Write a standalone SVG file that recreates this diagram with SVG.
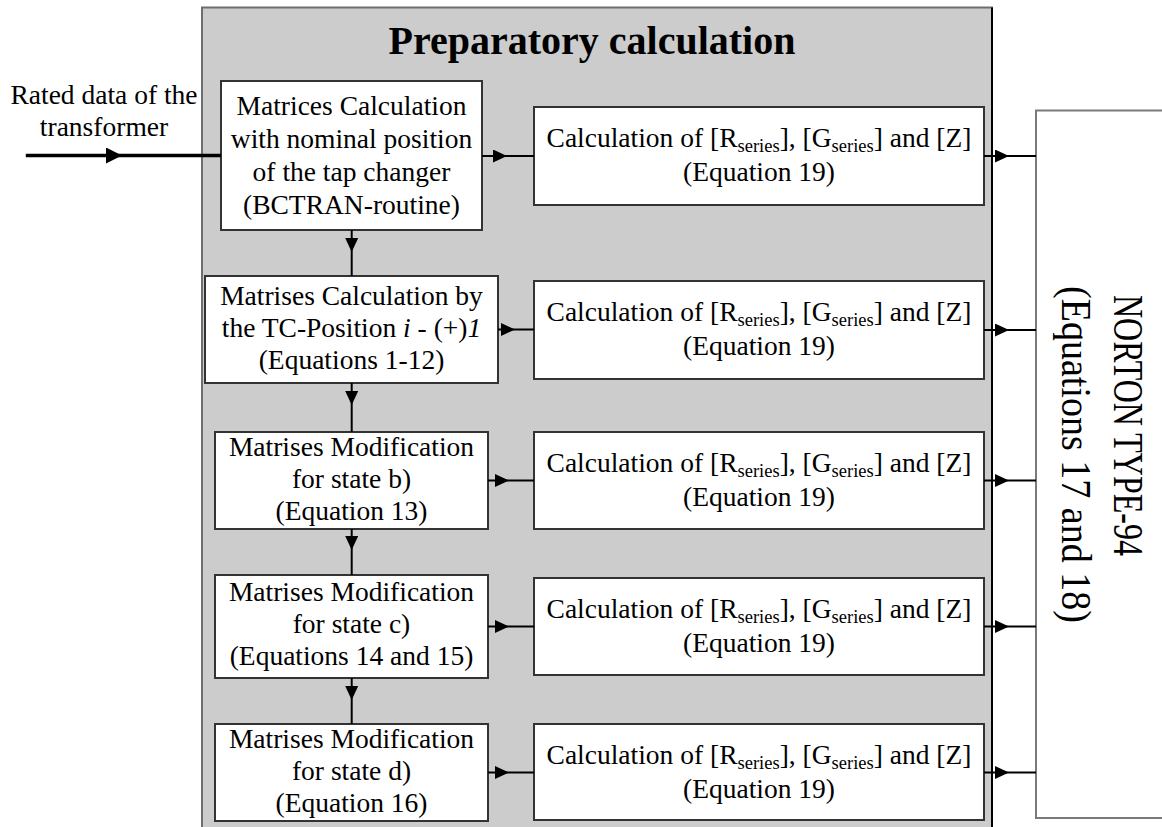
<svg xmlns="http://www.w3.org/2000/svg" width="1162" height="827" viewBox="0 0 1162 827">
<defs>
<style>
text{font-family:"Liberation Serif","Times New Roman",serif;fill:#000;}
.t{font-size:27.5px;text-anchor:middle;}
.sub{font-size:18.5px;}
.box{fill:#fff;stroke:#333;stroke-width:2;}
.con{fill:none;stroke:#000;stroke-width:2;marker-mid:url(#ah);}
</style>
<marker id="ah" viewBox="0 0 14 13" refX="14" refY="6.5" markerWidth="14" markerHeight="13" markerUnits="userSpaceOnUse" orient="auto">
<path d="M0,0 L14,6.5 L0,13 Z" fill="#000"/>
</marker>
<marker id="ahL" viewBox="0 0 16 16" refX="16" refY="8" markerWidth="16" markerHeight="16" markerUnits="userSpaceOnUse" orient="auto">
<path d="M0,0 L16,8 L0,16 Z" fill="#000"/>
</marker>
</defs>
<rect width="1162" height="827" fill="#fff"/>

<g id="panel">
<rect x="202" y="7.5" width="790" height="830" fill="#cccccc" stroke="#6e6e6e" stroke-width="2"/>
<line x1="992" y1="7.5" x2="992" y2="827" stroke="#000" stroke-width="2"/>
<text x="592" y="54" style="font-size:40px;font-weight:bold;text-anchor:middle">Preparatory calculation</text>
</g>

<g id="input-label">
<text class="t" x="104" y="104">Rated data of the</text>
<text class="t" x="104" y="136">transformer</text>
</g>

<g id="norton">
<rect x="1036" y="110.5" width="140" height="707.5" fill="#fff" stroke="#7a7a7a" stroke-width="2"/>
<text transform="translate(1114,295) rotate(90)" style="font-size:42px" textLength="261" lengthAdjust="spacingAndGlyphs">NORTON TYPE-94</text>
<text transform="translate(1062,286) rotate(90)" style="font-size:42px" textLength="337" lengthAdjust="spacingAndGlyphs">(Equations 17 and 18)</text>
</g>

<g id="L1">
<rect class="box" x="221" y="81" width="261" height="149"/>
<text class="t" x="351.5" y="115">Matrices Calculation</text>
<text class="t" x="351.5" y="148">with nominal position</text>
<text class="t" x="351.5" y="181">of the tap changer</text>
<text class="t" x="351.5" y="214">(BCTRAN-routine)</text>
</g>

<g id="L2">
<rect class="box" x="205" y="276" width="293" height="107"/>
<text class="t" x="351.5" y="305">Matrises Calculation by</text>
<text class="t" x="351.5" y="337">the TC-Position <tspan font-style="italic">i</tspan> - (+)<tspan font-style="italic">1</tspan></text>
<text class="t" x="351.5" y="369">(Equations 1-12)</text>
</g>

<g id="L3">
<rect class="box" x="215" y="432" width="273" height="97"/>
<text class="t" x="351.5" y="456">Matrises Modification</text>
<text class="t" x="351.5" y="488">for state b)</text>
<text class="t" x="351.5" y="520">(Equation 13)</text>
</g>

<g id="L4">
<rect class="box" x="215" y="575" width="273" height="103"/>
<text class="t" x="351.5" y="601">Matrises Modification</text>
<text class="t" x="351.5" y="633">for state c)</text>
<text class="t" x="351.5" y="665">(Equations 14 and 15)</text>
</g>

<g id="L5">
<rect class="box" x="215" y="724" width="273" height="97"/>
<text class="t" x="351.5" y="748">Matrises Modification</text>
<text class="t" x="351.5" y="780">for state d)</text>
<text class="t" x="351.5" y="812">(Equation 16)</text>
</g>

<g id="R1">
<rect class="box" x="534" y="107" width="450" height="98"/>
<text class="t" x="759" y="147">Calculation of [R<tspan class="sub" dy="5">series</tspan><tspan dy="-5">], [G</tspan><tspan class="sub" dy="5">series</tspan><tspan dy="-5">] and [Z]</tspan></text>
<text class="t" x="759" y="181">(Equation 19)</text>
</g>

<g id="R2">
<rect class="box" x="534" y="281" width="450" height="98"/>
<text class="t" x="759" y="321">Calculation of [R<tspan class="sub" dy="5">series</tspan><tspan dy="-5">], [G</tspan><tspan class="sub" dy="5">series</tspan><tspan dy="-5">] and [Z]</tspan></text>
<text class="t" x="759" y="355">(Equation 19)</text>
</g>

<g id="R3">
<rect class="box" x="534" y="432" width="450" height="97"/>
<text class="t" x="759" y="472">Calculation of [R<tspan class="sub" dy="5">series</tspan><tspan dy="-5">], [G</tspan><tspan class="sub" dy="5">series</tspan><tspan dy="-5">] and [Z]</tspan></text>
<text class="t" x="759" y="506">(Equation 19)</text>
</g>

<g id="R4">
<rect class="box" x="534" y="578" width="450" height="97"/>
<text class="t" x="759" y="618">Calculation of [R<tspan class="sub" dy="5">series</tspan><tspan dy="-5">], [G</tspan><tspan class="sub" dy="5">series</tspan><tspan dy="-5">] and [Z]</tspan></text>
<text class="t" x="759" y="652">(Equation 19)</text>
</g>

<g id="R5">
<rect class="box" x="534" y="724" width="450" height="96"/>
<text class="t" x="759" y="764">Calculation of [R<tspan class="sub" dy="5">series</tspan><tspan dy="-5">], [G</tspan><tspan class="sub" dy="5">series</tspan><tspan dy="-5">] and [Z]</tspan></text>
<text class="t" x="759" y="798">(Equation 19)</text>
</g>

<g id="connectors">
<path d="M25.8,155.5 L122,155.5 L221,155.5" fill="none" stroke="#000" stroke-width="3.5" marker-mid="url(#ahL)"/>
<path class="con" d="M482,156 L507,156 L534,156"/>
<path class="con" d="M498,329.5 L515,329.5 L534,329.5"/>
<path class="con" d="M488,480.5 L509,480.5 L534,480.5"/>
<path class="con" d="M488,626.5 L509,626.5 L534,626.5"/>
<path class="con" d="M488,772.5 L509,772.5 L534,772.5"/>
<path class="con" d="M984,156 L1009,156 L1036,156"/>
<path class="con" d="M984,330 L1009,330 L1036,330"/>
<path class="con" d="M984,480.5 L1009,480.5 L1036,480.5"/>
<path class="con" d="M984,626.5 L1009,626.5 L1036,626.5"/>
<path class="con" d="M984,772.5 L1009,772.5 L1036,772.5"/>
<path class="con" d="M351.7,230 L351.7,252 L351.7,276"/>
<path class="con" d="M351.7,383 L351.7,405 L351.7,432"/>
<path class="con" d="M351.7,529 L351.7,550 L351.7,575"/>
<path class="con" d="M351.7,678 L351.7,700 L351.7,724"/>
</g>
</svg>
